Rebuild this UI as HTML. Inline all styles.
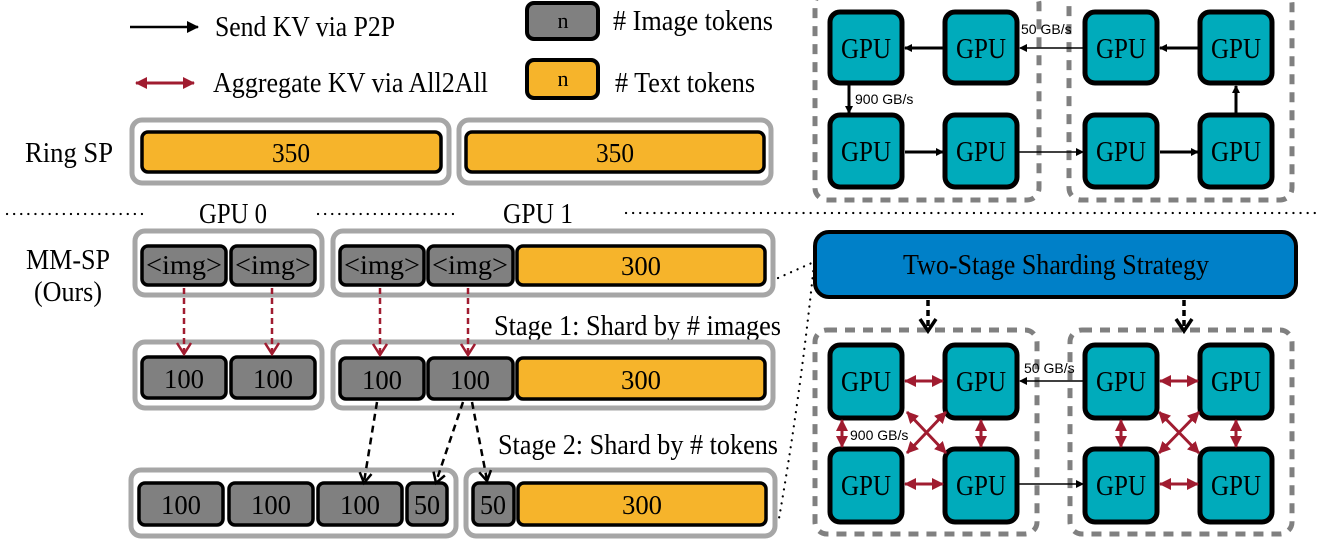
<!DOCTYPE html>
<html><head><meta charset="utf-8"><style>
html,body{margin:0;padding:0;background:#fff;}
svg{display:block;}
text{font-family:"Liberation Serif",serif;}
.s{font-family:"Liberation Sans",sans-serif;}
</style></head><body>
<svg width="1329" height="558" viewBox="0 0 1329 558" xmlns="http://www.w3.org/2000/svg">
<defs>
<marker id="ah" markerWidth="8" markerHeight="8" refX="7" refY="4" orient="auto" markerUnits="userSpaceOnUse"><path d="M0,0 L8,4 L0,8 z" fill="#000"/></marker>
<marker id="ahs" markerWidth="12" markerHeight="12" refX="11" refY="6" orient="auto" markerUnits="userSpaceOnUse"><path d="M0,0 L12,6 L0,12 z" fill="#000"/></marker>
<marker id="rh" markerWidth="12" markerHeight="12" refX="11" refY="6" orient="auto-start-reverse" markerUnits="userSpaceOnUse"><path d="M0,0 L12,6 L0,12 z" fill="#a01c30"/></marker>
</defs>

<!-- Legend -->
<line x1="130" y1="27" x2="198" y2="27" stroke="#000" stroke-width="2.5" marker-end="url(#ahs)"/>
<text x="215" y="36" font-size="28" textLength="180" lengthAdjust="spacingAndGlyphs">Send KV via P2P</text>
<line x1="136" y1="83" x2="194" y2="83" stroke="#a01c30" stroke-width="3" marker-start="url(#rh)" marker-end="url(#rh)"/>
<text x="213" y="92" font-size="28" textLength="275" lengthAdjust="spacingAndGlyphs">Aggregate KV via All2All</text>
<rect x="527" y="3" width="71" height="36" rx="7" fill="#808080" stroke="#000" stroke-width="4"/>
<text x="563" y="28" font-size="22" text-anchor="middle">n</text>
<rect x="527" y="60" width="71" height="38" rx="7" fill="#f6b42b" stroke="#000" stroke-width="4"/>
<text x="563" y="86" font-size="22" text-anchor="middle">n</text>
<text x="613" y="30" font-size="28" textLength="160" lengthAdjust="spacingAndGlyphs"># Image tokens</text>
<text x="615" y="92" font-size="28" textLength="140" lengthAdjust="spacingAndGlyphs"># Text tokens</text>

<!-- Ring SP -->
<text x="25" y="162" font-size="28" textLength="88" lengthAdjust="spacingAndGlyphs">Ring SP</text>
<rect x="132" y="120" width="317" height="63" rx="10" fill="#fff" stroke="#a6a6a6" stroke-width="5"/>
<rect x="142" y="132" width="299" height="40" rx="6" fill="#f6b42b" stroke="#000" stroke-width="3.5"/>
<text x="291" y="162" font-size="27" text-anchor="middle" textLength="38" lengthAdjust="spacingAndGlyphs">350</text>
<rect x="459" y="120" width="312" height="63" rx="10" fill="#fff" stroke="#a6a6a6" stroke-width="5"/>
<rect x="466" y="132" width="298" height="40" rx="6" fill="#f6b42b" stroke="#000" stroke-width="3.5"/>
<text x="615" y="162" font-size="27" text-anchor="middle" textLength="38" lengthAdjust="spacingAndGlyphs">350</text>

<!-- dotted separator -->
<g stroke="#000" stroke-width="2.2" stroke-dasharray="0.1 7" stroke-linecap="round">
<line x1="7" y1="214" x2="145" y2="214"/>
<line x1="318" y1="214" x2="455" y2="214"/>
<line x1="626" y1="213" x2="1318" y2="213"/>
<line x1="778" y1="278" x2="814" y2="262"/>
<path d="M814,264 Q800,400 778,524" fill="none"/>
</g>
<text x="233" y="223" font-size="28" text-anchor="middle" textLength="68" lengthAdjust="spacingAndGlyphs">GPU 0</text>
<text x="538" y="223" font-size="28" text-anchor="middle" textLength="70" lengthAdjust="spacingAndGlyphs">GPU 1</text>

<!-- MM-SP label -->
<text x="68" y="269" font-size="28" text-anchor="middle" textLength="84" lengthAdjust="spacingAndGlyphs">MM-SP</text>
<text x="68" y="301" font-size="28" text-anchor="middle" textLength="68" lengthAdjust="spacingAndGlyphs">(Ours)</text>

<!-- Row 1 -->
<rect x="135" y="231" width="187" height="64" rx="10" fill="#fff" stroke="#a6a6a6" stroke-width="5"/>
<rect x="333" y="231" width="440" height="64" rx="10" fill="#fff" stroke="#a6a6a6" stroke-width="5"/>
<g stroke="#000" stroke-width="3.5">
<rect x="142" y="246" width="84" height="39" rx="6" fill="#808080"/>
<rect x="231" y="246" width="84" height="39" rx="6" fill="#808080"/>
<rect x="340" y="246" width="84" height="39" rx="6" fill="#808080"/>
<rect x="428" y="246" width="85" height="39" rx="6" fill="#808080"/>
<rect x="517" y="246" width="248" height="39" rx="6" fill="#f6b42b"/>
</g>
<g font-size="27" text-anchor="middle">
<text x="184" y="274" textLength="76" lengthAdjust="spacingAndGlyphs">&lt;img&gt;</text><text x="273" y="274" textLength="76" lengthAdjust="spacingAndGlyphs">&lt;img&gt;</text>
<text x="382" y="274" textLength="76" lengthAdjust="spacingAndGlyphs">&lt;img&gt;</text><text x="470" y="274" textLength="76" lengthAdjust="spacingAndGlyphs">&lt;img&gt;</text>
<text x="641" y="275" textLength="40" lengthAdjust="spacingAndGlyphs">300</text>
</g>
<text x="494" y="335" font-size="28" textLength="287" lengthAdjust="spacingAndGlyphs">Stage 1: Shard by # images</text>

<!-- Row 2 -->
<rect x="135" y="342" width="187" height="66" rx="10" fill="#fff" stroke="#a6a6a6" stroke-width="5"/>
<rect x="333" y="342" width="440" height="66" rx="10" fill="#fff" stroke="#a6a6a6" stroke-width="5"/>
<g stroke="#000" stroke-width="3.5">
<rect x="142" y="357" width="84" height="41" rx="6" fill="#808080"/>
<rect x="231" y="357" width="84" height="41" rx="6" fill="#808080"/>
<rect x="340" y="358" width="84" height="41" rx="6" fill="#808080"/>
<rect x="428" y="358" width="85" height="41" rx="6" fill="#808080"/>
<rect x="517" y="358" width="248" height="41" rx="6" fill="#f6b42b"/>
</g>
<g font-size="27" text-anchor="middle">
<text x="184" y="388" textLength="40" lengthAdjust="spacingAndGlyphs">100</text><text x="273" y="388" textLength="40" lengthAdjust="spacingAndGlyphs">100</text>
<text x="382" y="389" textLength="40" lengthAdjust="spacingAndGlyphs">100</text><text x="470" y="389" textLength="40" lengthAdjust="spacingAndGlyphs">100</text>
<text x="641" y="389" textLength="40" lengthAdjust="spacingAndGlyphs">300</text>
</g>
<text x="498" y="454" font-size="28" textLength="280" lengthAdjust="spacingAndGlyphs">Stage 2: Shard by # tokens</text>

<!-- Row 3 -->
<rect x="131" y="470" width="325" height="66" rx="10" fill="#fff" stroke="#a6a6a6" stroke-width="5"/>
<rect x="466" y="470" width="309" height="66" rx="10" fill="#fff" stroke="#a6a6a6" stroke-width="5"/>
<g stroke="#000" stroke-width="3.5">
<rect x="139" y="483" width="84" height="42" rx="6" fill="#808080"/>
<rect x="229" y="483" width="84" height="42" rx="6" fill="#808080"/>
<rect x="318" y="483" width="84" height="42" rx="6" fill="#808080"/>
<rect x="407" y="483" width="40" height="42" rx="6" fill="#808080"/>
<rect x="473" y="483" width="41" height="42" rx="6" fill="#808080"/>
<rect x="518" y="483" width="248" height="42" rx="6" fill="#f6b42b"/>
</g>
<g font-size="27" text-anchor="middle">
<text x="181" y="514" textLength="40" lengthAdjust="spacingAndGlyphs">100</text><text x="271" y="514" textLength="40" lengthAdjust="spacingAndGlyphs">100</text><text x="360" y="514" textLength="40" lengthAdjust="spacingAndGlyphs">100</text>
<text x="427" y="514" textLength="26" lengthAdjust="spacingAndGlyphs">50</text><text x="493" y="514" textLength="26" lengthAdjust="spacingAndGlyphs">50</text><text x="642" y="514" textLength="40" lengthAdjust="spacingAndGlyphs">300</text>
</g>

<!-- red dashed arrows -->
<g stroke="#a01c30" stroke-width="2.5" stroke-dasharray="6 4">
<line x1="184" y1="288" x2="184" y2="352"/>
<line x1="272" y1="288" x2="272" y2="352"/>
<line x1="380" y1="288" x2="380" y2="353"/>
<line x1="468" y1="288" x2="468" y2="353"/>
</g>
<g stroke="#a01c30" stroke-width="2.5" fill="none">
<path d="M177,343 L184,354 L191,343"/>
<path d="M265,343 L272,354 L279,343"/>
<path d="M373,344 L380,355 L387,344"/>
<path d="M461,344 L468,355 L475,344"/>
</g>

<!-- black dashed arrows -->
<g stroke="#000" stroke-width="2.5" stroke-dasharray="7 5">
<line x1="377" y1="402" x2="364" y2="482"/>
<line x1="463" y1="402" x2="436" y2="482"/>
<line x1="472" y1="402" x2="487" y2="480"/>
</g>
<g stroke="#000" stroke-width="2.5" fill="none">
<path d="M359.7,472.2 L364,483 L371.5,474.1"/>
<path d="M433.5,471.6 L436,483 L444.9,475.4"/>
<path d="M479.2,472.3 L487,481 L491,470.1"/>
</g>

<!-- Top right GPU ring cluster -->
<g fill="none" stroke="#808080" stroke-width="5" stroke-dasharray="10 8">
<rect x="815" y="-8" width="224" height="208" rx="12"/>
<rect x="1069" y="-8" width="223" height="208" rx="12"/>
</g>
<g fill="#00abbb" stroke="#000" stroke-width="5">
<rect x="830" y="12" width="72" height="71" rx="10"/>
<rect x="945" y="12" width="72" height="71" rx="10"/>
<rect x="1085" y="12" width="72" height="71" rx="10"/>
<rect x="1200" y="12" width="72" height="71" rx="10"/>
<rect x="830" y="115" width="72" height="72" rx="10"/>
<rect x="945" y="115" width="72" height="72" rx="10"/>
<rect x="1085" y="115" width="72" height="72" rx="10"/>
<rect x="1200" y="115" width="72" height="72" rx="10"/>
</g>
<g font-size="28" text-anchor="middle">
<text x="866" y="58" textLength="50" lengthAdjust="spacingAndGlyphs">GPU</text><text x="981" y="58" textLength="50" lengthAdjust="spacingAndGlyphs">GPU</text><text x="1121" y="58" textLength="50" lengthAdjust="spacingAndGlyphs">GPU</text><text x="1236" y="58" textLength="50" lengthAdjust="spacingAndGlyphs">GPU</text>
<text x="866" y="161" textLength="50" lengthAdjust="spacingAndGlyphs">GPU</text><text x="981" y="161" textLength="50" lengthAdjust="spacingAndGlyphs">GPU</text><text x="1121" y="161" textLength="50" lengthAdjust="spacingAndGlyphs">GPU</text><text x="1236" y="161" textLength="50" lengthAdjust="spacingAndGlyphs">GPU</text>
</g>
<g stroke="#000" stroke-width="3" marker-end="url(#ah)">
<line x1="943" y1="48" x2="905" y2="48"/>
<line x1="1198" y1="48" x2="1160" y2="48"/>
<line x1="905" y1="152" x2="943" y2="152"/>
<line x1="1160" y1="152" x2="1198" y2="152"/>
<line x1="1236" y1="113" x2="1236" y2="86"/>
<line x1="849" y1="85" x2="849" y2="113"/>
</g>
<g stroke="#000" stroke-width="1.5" marker-end="url(#ah)">
<line x1="1083" y1="48" x2="1020" y2="48"/>
<line x1="1019" y1="152" x2="1083" y2="152"/>
</g>
<text class="s" x="1021" y="34" font-size="14">50 GB/s</text>
<text class="s" x="855" y="104" font-size="14">900 GB/s</text>

<!-- Two-stage box -->
<rect x="815" y="232" width="481" height="65" rx="14" fill="#0080c8" stroke="#000" stroke-width="4"/>
<text x="1056" y="274" font-size="28" text-anchor="middle" textLength="306" lengthAdjust="spacingAndGlyphs">Two-Stage Sharding Strategy</text>

<!-- Bottom right cluster -->
<g fill="none" stroke="#808080" stroke-width="5" stroke-dasharray="10 8">
<rect x="815" y="330" width="222" height="204" rx="12"/>
<rect x="1070" y="330" width="222" height="204" rx="12"/>
</g>
<g stroke="#000" stroke-width="3.5" stroke-dasharray="6 4">
<line x1="928" y1="300" x2="928" y2="328"/>
<line x1="1184" y1="300" x2="1184" y2="328"/>
</g>
<g stroke="#000" stroke-width="3.5" fill="none">
<path d="M920,319 L928,331 L936,319"/>
<path d="M1176,319 L1184,331 L1192,319"/>
</g>
<g fill="#00abbb" stroke="#000" stroke-width="5">
<rect x="830" y="345" width="72" height="73" rx="10"/>
<rect x="945" y="345" width="72" height="73" rx="10"/>
<rect x="1085" y="345" width="72" height="73" rx="10"/>
<rect x="1200" y="345" width="72" height="73" rx="10"/>
<rect x="830" y="449" width="72" height="73" rx="10"/>
<rect x="945" y="449" width="72" height="73" rx="10"/>
<rect x="1085" y="449" width="72" height="73" rx="10"/>
<rect x="1200" y="449" width="72" height="73" rx="10"/>
</g>
<g font-size="28" text-anchor="middle">
<text x="866" y="391" textLength="50" lengthAdjust="spacingAndGlyphs">GPU</text><text x="981" y="391" textLength="50" lengthAdjust="spacingAndGlyphs">GPU</text><text x="1121" y="391" textLength="50" lengthAdjust="spacingAndGlyphs">GPU</text><text x="1236" y="391" textLength="50" lengthAdjust="spacingAndGlyphs">GPU</text>
<text x="866" y="495" textLength="50" lengthAdjust="spacingAndGlyphs">GPU</text><text x="981" y="495" textLength="50" lengthAdjust="spacingAndGlyphs">GPU</text><text x="1121" y="495" textLength="50" lengthAdjust="spacingAndGlyphs">GPU</text><text x="1236" y="495" textLength="50" lengthAdjust="spacingAndGlyphs">GPU</text>
</g>
<g stroke="#a01c30" stroke-width="3" marker-start="url(#rh)" marker-end="url(#rh)">
<line x1="905" y1="381" x2="943" y2="381"/>
<line x1="905" y1="484" x2="943" y2="484"/>
<line x1="1160" y1="381" x2="1198" y2="381"/>
<line x1="1160" y1="484" x2="1198" y2="484"/>
<line x1="842" y1="420" x2="842" y2="447"/>
<line x1="981" y1="420" x2="981" y2="447"/>
<line x1="1121" y1="420" x2="1121" y2="447"/>
<line x1="1236" y1="420" x2="1236" y2="447"/>
<line x1="907" y1="412" x2="946" y2="453"/>
<line x1="946" y1="412" x2="907" y2="453"/>
<line x1="1159" y1="412" x2="1199" y2="453"/>
<line x1="1199" y1="412" x2="1159" y2="453"/>
</g>
<g stroke="#000" stroke-width="1.5" marker-end="url(#ah)">
<line x1="1083" y1="381" x2="1020" y2="381"/>
<line x1="1019" y1="484" x2="1083" y2="484"/>
</g>
<text class="s" x="1024" y="373" font-size="14">50 GB/s</text>
<text class="s" x="850" y="440" font-size="14">900 GB/s</text>
</svg>
</body></html>
